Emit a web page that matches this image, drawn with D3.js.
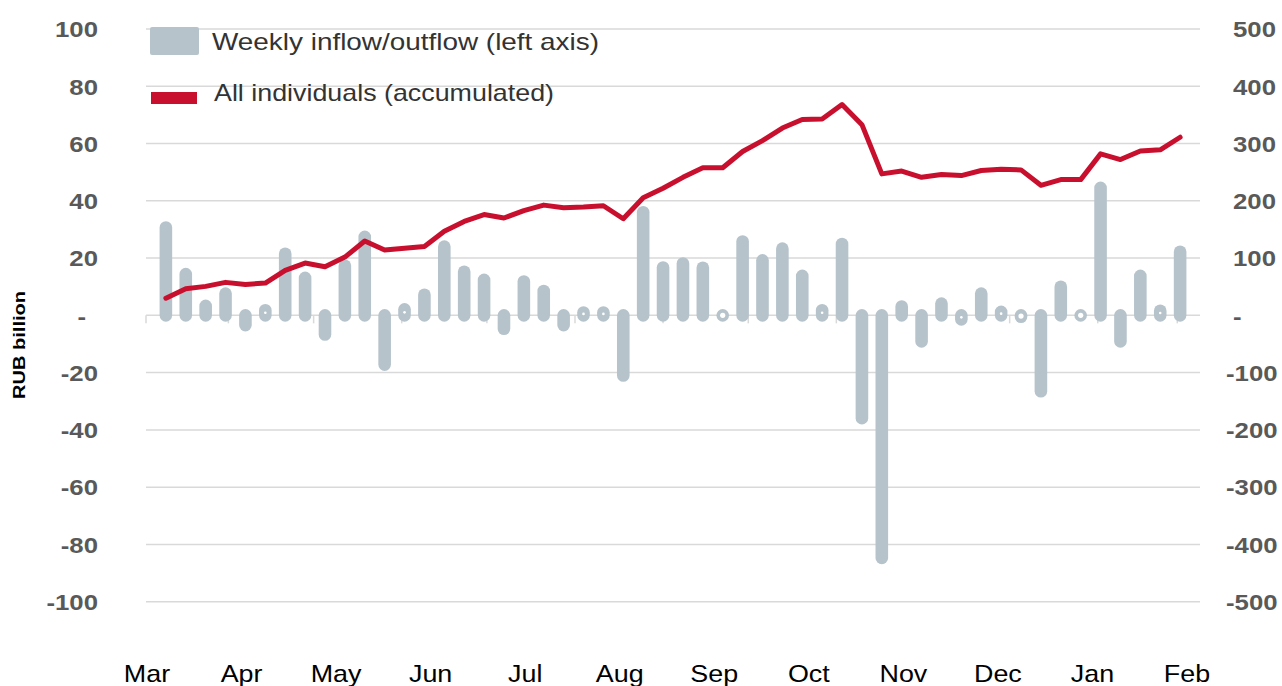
<!DOCTYPE html>
<html>
<head>
<meta charset="utf-8">
<script src="https://cdn.jsdelivr.net/npm/d3@7"></script>
<style>
  body { margin: 0; background: #fff; }
  svg { display: block; font-family: "Liberation Sans", Arial, sans-serif; }
</style>
</head>
<body>
<div id="chart"></div>
<script>
// weekly flows, RUB bn (left axis)
const weeklyFlow = [30.7, 14.4, 3.3, 7.6, -3.4, 1.8, 21.5, 13.1, -6.7, 17.3,
  27.4, -17.2, 2.1, 7.2, 24, 15.2, 12.4, -4.7, 11.8, 8.5,
  -3.4, 1.0, 1.0, -21, 36, 16.7, 18.1, 16.6, 0, 25.8,
  19.2, 23.3, 13.8, 1.8, 24.9, -35.9, -84.7, 3.1, -9.1, 4.1,
  -1.4, 7.6, 1.2, -0.5, -26.5, 10, 0, 44.5, -9.1, 13.8, 1.6, 22.2]

// accumulated, RUB bn (right axis)
const accumulated = [30, 46.6, 50.6, 57.6, 54, 56.4, 78.5, 91.3, 85, 101.7,
  129.7, 114, 117, 120.4, 147, 164, 176, 170, 183, 192.5,
  188, 189, 191.4, 168.7, 205.4, 222, 241, 257.7, 257.7, 286,
  305, 327, 342, 343, 368, 333, 247, 252, 241, 246,
  244, 253, 255, 254, 227, 237, 237, 282, 272, 287, 289, 311]

const months = ["Mar", "Apr", "May", "Jun", "Jul", "Aug", "Sep", "Oct", "Nov", "Dec", "Jan", "Feb"]
const leftTicks = [100, 80, 60, 40, 20, 0, -20, -40, -60, -80, -100]
const rightTicks = [500, 400, 300, 200, 100, 0, -100, -200, -300, -400, -500]

const legendItems = ["Weekly inflow/outflow (left axis)", "All individuals (accumulated)"]

const barColor = "#b6c3cb"
const lineColor = "#c8102e"
const gridColor = "#d9d9d9"
const stretch = 1.12   // source font is a bit wider than Liberation Sans

const width = 1282
const height = 686

const svg = d3.select("#chart")
  .append("svg")
    .attr("width", width)
    .attr("height", height)

// weeks as dates, first week 10 Mar 2022
const firstWeek = new Date(2022, 2, 10)
const weeks = weeklyFlow.map((d, i) => d3.timeDay.offset(firstWeek, 7 * i))

const x = d3.scaleTime()
  .domain([d3.timeDay.offset(firstWeek, -7), d3.timeDay.offset(firstWeek, 7 * 52)])
  .range([146, 1200])

const yLeft = d3.scaleLinear().domain([-100, 100]).range([601.7, 29])
const yRight = d3.scaleLinear().domain([-500, 500]).range([601.7, 29])

// gridlines
svg.append("g")
  .selectAll("line")
  .data(leftTicks)
  .enter()
  .append("line")
    .attr("x1", x.range()[0])
    .attr("x2", x.range()[1])
    .attr("y1", d => yLeft(d))
    .attr("y2", d => yLeft(d))
    .attr("stroke", gridColor)
    .attr("stroke-width", 1.5)

// month tick marks on the zero line
const tickDates = [x.domain()[0]].concat(d3.timeMonth.range(d3.timeMonth.ceil(x.domain()[0]), x.domain()[1]))
svg.append("g")
  .selectAll("line")
  .data(tickDates)
  .enter()
  .append("line")
    .attr("x1", d => x(d))
    .attr("x2", d => x(d))
    .attr("y1", yLeft(0))
    .attr("y2", yLeft(0) + 8)
    .attr("stroke", gridColor)
    .attr("stroke-width", 1.5)

// bars: thick rounded strokes
const bars = svg.append("g")
bars.selectAll("line")
  .data(weeklyFlow)
  .enter()
  .append("line")
    .attr("x1", (d, i) => x(weeks[i]))
    .attr("x2", (d, i) => x(weeks[i]))
    .attr("y1", yLeft(0))
    .attr("y2", d => yLeft(d))
    .attr("stroke", barColor)
    .attr("stroke-width", 12.6)
    .attr("stroke-linecap", "round")

// tiny flows show as a ring with a light centre
bars.selectAll("circle")
  .data(weeklyFlow.map((d, i) => ({v: d, i: i})).filter(d => Math.abs(d.v) < 2.5))
  .enter()
  .append("circle")
    .attr("cx", d => x(weeks[d.i]))
    .attr("cy", d => yLeft(d.v / 2))
    .attr("r", d => Math.abs(d.v) < 0.8 ? 2.6 : 1.3)
    .attr("fill", "#fff")

// accumulated line
const line = d3.line()
  .x((d, i) => x(weeks[i]))
  .y(d => yRight(d))

svg.append("path")
  .datum(accumulated)
  .attr("d", line)
  .attr("fill", "none")
  .attr("stroke", lineColor)
  .attr("stroke-width", 5)
  .attr("stroke-linejoin", "round")
  .attr("stroke-linecap", "round")

// left axis labels
svg.append("g")
  .selectAll("text")
  .data(leftTicks)
  .enter()
  .append("text")
    .attr("transform", d => "translate(" + (d === 0 ? 86 : 98) + "," + yLeft(d) + ")scale(" + stretch + ",1)")
    .attr("dy", "0.36em")
    .attr("text-anchor", "end")
    .attr("font-size", "23px")
    .attr("font-weight", "bold")
    .attr("fill", "#595959")
    .text(d => d === 0 ? "-" : d)

// right axis labels
svg.append("g")
  .selectAll("text")
  .data(rightTicks)
  .enter()
  .append("text")
    .attr("transform", d => "translate(" + (d < 0 ? 1226 : 1233) + "," + yRight(d) + ")scale(" + stretch + ",1)")
    .attr("dy", "0.36em")
    .attr("text-anchor", "start")
    .attr("font-size", "23px")
    .attr("font-weight", "bold")
    .attr("fill", "#595959")
    .text(d => d === 0 ? "-" : d)

// month labels
const xMonth = d3.scalePoint().domain(months).range([147, 1187])
svg.append("g")
  .selectAll("text")
  .data(months)
  .enter()
  .append("text")
    .attr("transform", d => "translate(" + xMonth(d) + ",682)scale(" + stretch + ",1)")
    .attr("text-anchor", "middle")
    .attr("font-size", "24px")
    .attr("fill", "#000")
    .text(d => d)

// y axis title
svg.append("text")
  .attr("transform", "translate(25,345)rotate(-90)")
  .attr("text-anchor", "middle")
  .attr("font-size", "17px")
  .attr("font-weight", "bold")
  .attr("fill", "#000")
  .attr("textLength", 108)
  .attr("lengthAdjust", "spacingAndGlyphs")
  .text("RUB billion")

// legend
const legend = svg.append("g")
legend.append("rect")
  .attr("x", 150).attr("y", 27)
  .attr("width", 49).attr("height", 28)
  .attr("rx", 2)
  .attr("fill", barColor)
legend.append("rect")
  .attr("x", 151).attr("y", 92)
  .attr("width", 46).attr("height", 12)
  .attr("fill", lineColor)
legend.selectAll("text")
  .data(legendItems)
  .enter()
  .append("text")
    .attr("x", (d, i) => i === 0 ? 212 : 214)
    .attr("y", (d, i) => i === 0 ? 50 : 101)
    .attr("font-size", "24px")
    .attr("fill", "#333")
    .attr("textLength", (d, i) => i === 0 ? 387 : 340)
    .attr("lengthAdjust", "spacingAndGlyphs")
    .text(d => d)
</script>
</body>
</html>
